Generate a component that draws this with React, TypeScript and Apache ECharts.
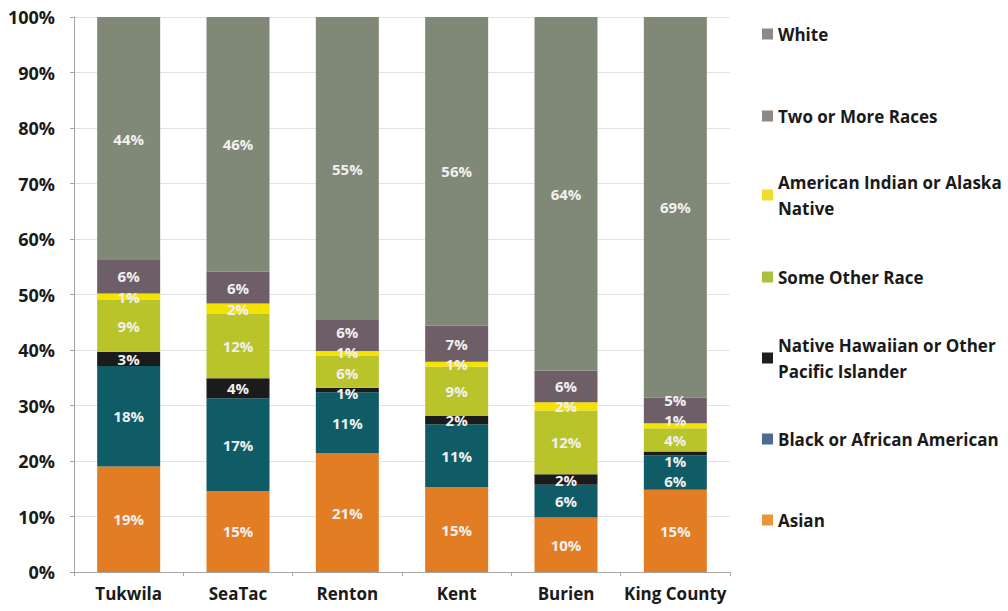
import React, { useEffect, useRef } from "react";
import * as echarts from "echarts";

const categories = ["Tukwila", "SeaTac", "Renton", "Kent", "Burien", "King County"];
const asian = [19.0, 14.6, 21.4, 15.3, 9.8, 14.8];
const black = [18.1, 16.7, 11.0, 11.3, 5.9, 6.2];
const nhpi = [2.6, 3.6, 0.8, 1.5, 1.9, 0.7];
const otherRace = [9.4, 11.6, 5.8, 8.9, 11.5, 4.2];
const aian = [1.1, 1.9, 0.8, 0.9, 1.5, 0.9];
const twoMore = [6.0, 5.7, 5.6, 6.5, 5.7, 4.6];
const white = [43.8, 45.9, 54.6, 55.6, 63.7, 68.6];
const yTicks = [0, 10, 20, 30, 40, 50, 60, 70, 80, 90, 100];

const seriesDefs = [
  { name: "Asian", data: asian, color: "#E27D24", legendColor: "#E8963A", lines: ["Asian"] },
  { name: "Black or African American", data: black, color: "#0F5C66", legendColor: "#4E6A92", lines: ["Black or African American"] },
  { name: "Native Hawaiian or Other Pacific Islander", data: nhpi, color: "#1B1B1B", legendColor: "#1E1E1E", lines: ["Native Hawaiian or Other", "Pacific Islander"] },
  { name: "Some Other Race", data: otherRace, color: "#B9C42B", legendColor: "#A9C13E", lines: ["Some Other Race"] },
  { name: "American Indian or Alaska Native", data: aian, color: "#F4E200", legendColor: "#F0DC2A", lines: ["American Indian or Alaska", "Native"] },
  { name: "Two or More Races", data: twoMore, color: "#6E5E68", legendColor: "#8C8883", lines: ["Two or More Races"] },
  { name: "White", data: white, color: "#808878", legendColor: "#8B8A85", lines: ["White"] },
];

const legendCenters: Record<string, number> = {
  White: 34,
  "Two or More Races": 116,
  "American Indian or Alaska Native": 195,
  "Some Other Race": 277,
  "Native Hawaiian or Other Pacific Islander": 358,
  "Black or African American": 439,
  Asian: 520,
};

const FONT = "'Open Sans', Lato, sans-serif";

// Spread crowded labels within a column (value units), like the manually nudged labels of the original
function labelShifts(minGap: number): number[][] {
  const nS = seriesDefs.length;
  const shifts: number[][] = seriesDefs.map(() => categories.map(() => 0));
  categories.forEach((_, ci) => {
    const centers: number[] = [];
    let acc = 0;
    for (let si = 0; si < nS; si++) {
      const v = seriesDefs[si].data[ci];
      centers.push(acc + v / 2);
      acc += v;
    }
    let clusters: number[][] = centers.map((_, i) => [i, i]);
    const pos = (cl: number[]) => {
      const n = cl[1] - cl[0] + 1;
      let mean = 0;
      for (let k = cl[0]; k <= cl[1]; k++) mean += centers[k];
      mean /= n;
      const out: number[] = [];
      for (let k = cl[0]; k <= cl[1]; k++) out.push(mean + (k - cl[0] - (n - 1) / 2) * minGap);
      return out;
    };
    let changed = true;
    while (changed) {
      changed = false;
      for (let i = 0; i + 1 < clusters.length; i++) {
        const a = pos(clusters[i]);
        const b = pos(clusters[i + 1]);
        if (b[0] - a[a.length - 1] < minGap - 1e-9) {
          clusters.splice(i, 2, [clusters[i][0], clusters[i + 1][1]]);
          changed = true;
          break;
        }
      }
    }
    clusters.forEach((cl) => {
      const p = pos(cl);
      for (let k = cl[0]; k <= cl[1]; k++) shifts[k][ci] = p[k - cl[0]] - centers[k];
    });
  });
  return shifts;
}

export default function App() {
  const ref = useRef<HTMLDivElement>(null);
  useEffect(() => {
    if (!ref.current) return;
    const chart = echarts.init(ref.current, undefined, { renderer: "svg" });
    const LH = 26;
    const gridTop = 17;
    const gridBottom = 39;
    const pxPerUnit = (611 - gridTop - gridBottom) / (yTicks[yTicks.length - 1] - yTicks[0]);
    const shifts = labelShifts(3.65);
    const legends = seriesDefs.map((s) => {
      const twoLine = s.lines.length > 1;
      const center = legendCenters[s.name];
      return {
        data: [{ name: s.name, itemStyle: { color: s.legendColor } }],
        left: 762,
        top: twoLine ? center - LH * 1.5 : center - LH / 2,
        orient: "vertical",
        padding: 0,
        itemWidth: 11,
        itemHeight: 11,
        icon: "rect",
        selectedMode: false,
        formatter: () => s.lines.join("\n"),
        textStyle: {
          fontFamily: FONT,
          fontSize: 17,
          fontWeight: "bold",
          color: "#1a1a1a",
          lineHeight: LH,
          padding: twoLine ? [LH, 0, 0, 0] : 0,
        },
      };
    });
    chart.setOption({
      animation: false,
      backgroundColor: "#ffffff",
      textStyle: { fontFamily: FONT },
      grid: { left: 74, right: 278, top: gridTop, bottom: gridBottom, containLabel: false },
      legend: legends,
      xAxis: {
        type: "category",
        data: categories,
        axisLine: { lineStyle: { color: "#a6a6a6", width: 1 } },
        axisTick: { show: true, length: 4, lineStyle: { color: "#a6a6a6" } },
        axisLabel: {
          interval: 0,
          margin: 13,
          fontFamily: FONT,
          fontSize: 17,
          fontWeight: "bold",
          color: "#1a1a1a",
        },
      },
      yAxis: {
        type: "value",
        min: yTicks[0],
        max: yTicks[yTicks.length - 1],
        interval: 10,
        axisLine: { show: true, lineStyle: { color: "#a6a6a6", width: 1 } },
        axisTick: { show: true, length: 4, lineStyle: { color: "#a6a6a6" } },
        splitLine: { lineStyle: { color: "#e3e3e3", width: 1 } },
        axisLabel: {
          margin: 19,
          fontFamily: FONT,
          fontSize: 18,
          fontWeight: "bold",
          color: "#1a1a1a",
          formatter: "{value}%",
        },
      },
      series: seriesDefs.map((s, si) => ({
        name: s.name,
        type: "bar",
        stack: "total",
        barWidth: 63,
        data: s.data.map((v, ci) => ({
          value: v,
          label: { offset: [0, -shifts[si][ci] * pxPerUnit] },
        })),
        itemStyle: { color: s.color },
        label: {
          show: true,
          position: "inside",
          fontFamily: FONT,
          fontSize: 15,
          lineHeight: 16,
          fontWeight: "bold",
          color: "#F0F0F0",
          formatter: (p: any) => Math.round(p.value) + "%",
        },
      })),
    });
    return () => chart.dispose();
  }, []);
  return (
    <div
      ref={ref}
      style={{ position: "fixed", left: 0, top: 0, width: 1008, height: 611, background: "#fff" }}
    />
  );
}
